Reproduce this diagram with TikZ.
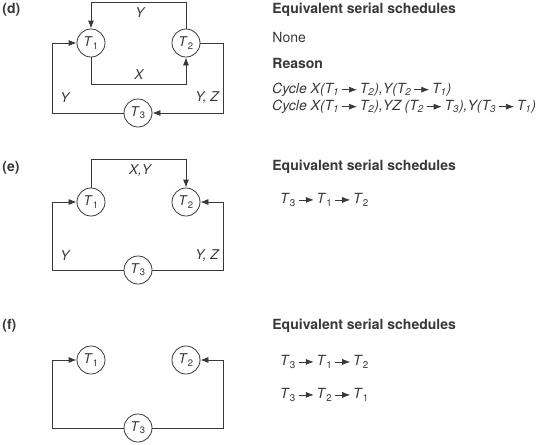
\documentclass[tikz,border=0pt]{standalone}
\usepackage{fontspec}
\setmainfont{TeX Gyre Heros}
\usetikzlibrary{arrows.meta}
\definecolor{ln}{gray}{0.22}
\newcommand{\Tn}[1]{\textit{T}\textsubscript{#1}}
\newcommand{\ra}{\kern2.5pt\tikz[baseline=-0.55ex]\draw[-{Latex[length=8pt,width=6pt]}, line width=0.7pt, ln] (0pt,0pt) -- (15pt,0pt);\kern2.5pt}

\begin{document}
\begin{tikzpicture}[x=1pt, y=-1pt]
\tikzset{ >={Latex[length=8pt,width=6pt]}, every path/.style={line width=0.8pt, ln},
  tx/.style={circle, draw, inner sep=0pt, minimum size=28pt, font=\fontsize{13.5}{15}\selectfont},
  lb/.style={text=ln, font=\fontsize{13.5}{15}\selectfont\itshape},
  hd/.style={anchor=west, text=ln, inner sep=0pt, font=\fontsize{14}{17}\selectfont\bfseries},
  tt/.style={anchor=west, text=ln, inner sep=0pt, font=\fontsize{14}{17}\selectfont} }
\useasboundingbox (0,0) rectangle (550,445);

%% (d)
\node [hd] (Ld) at (2,10) {(d)};
\node [tx] (D1) at (91,43)  {\Tn{1}};
\node [tx] (D2) at (186,43) {\Tn{2}};
\node [tx] (D3) at (138,113) {\Tn{3}};

\draw [->] (D2.north) -- (186,2) -| (D1.north);
\draw [->] (D1.south) -- (91,84) -| (D2.south);
\draw [->] (D3.west)  -- (52,113) |- (D1.west);
\draw [->] (D2.east)  -- (223,43) |- (D3.east);

\node [lb] at (140,13) {Y};
\node [lb] at (139,75) {X};
\node [lb] at (65,98)  {Y};
\node [lb] at (207,98) {Y, Z};

\node [hd] at (272,10) {Equivalent serial schedules};
\node [tt] at (272,37) {None};
\node [hd] at (272,63) {Reason};
\node [tt] at (272,90)  {\itshape Cycle X(\Tn{1}\ra\Tn{2}),Y(\Tn{2}\ra\Tn{1})};
\node [tt] at (272,107) {\itshape Cycle X(\Tn{1}\ra\Tn{2}),YZ (\Tn{2}\ra\Tn{3}),Y(\Tn{3}\ra\Tn{1})};

%% (e)
\node [hd] (Le) at (2,168) {(e)};
\node [tx] (E1) at (91,202)  {\Tn{1}};
\node [tx] (E2) at (186,202) {\Tn{2}};
\node [tx] (E3) at (138,270) {\Tn{3}};

\draw [->] (E1.north) -- (91,159) -| (E2.north);
\draw [->] (E3.west)  -- (52,270) |- (E1.west);
\draw [->] (E3.east)  -- (223,270) |- (E2.east);

\node [lb] at (140,171) {X,Y};
\node [lb] at (65,256)  {Y};
\node [lb] at (207,256) {Y, Z};

\node [hd] at (272,167) {Equivalent serial schedules};
\node [tt] at (280,200) {\Tn{3}\ra\Tn{1}\ra\Tn{2}};

%% (f)
\node [hd] (Lf) at (2,326) {(f)};
\node [tx] (F1) at (91,360)  {\Tn{1}};
\node [tx] (F2) at (186,360) {\Tn{2}};
\node [tx] (F3) at (138,428) {\Tn{3}};

\draw [->] (F3.west) -- (52,428) |- (F1.west);
\draw [->] (F3.east) -- (223,428) |- (F2.east);

\node [hd] at (272,326) {Equivalent serial schedules};
\node [tt] at (280,362) {\Tn{3}\ra\Tn{1}\ra\Tn{2}};
\node [tt] at (280,395) {\Tn{3}\ra\Tn{2}\ra\Tn{1}};

\end{tikzpicture}
\end{document}
